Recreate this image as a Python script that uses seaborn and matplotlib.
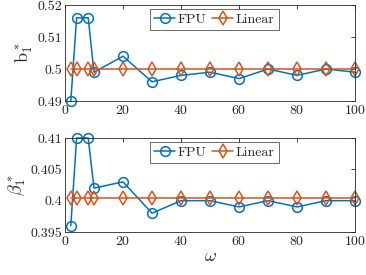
import numpy as np
import pandas as pd
import matplotlib
matplotlib.use("Agg")
import matplotlib.pyplot as plt
import seaborn as sns

# values
omega = [2, 4, 8, 10, 20, 30, 40, 50, 60, 70, 80, 90, 100]
b1_fpu = [0.490, 0.516, 0.516, 0.499, 0.504, 0.496, 0.498, 0.499, 0.497, 0.500, 0.498, 0.500, 0.499]
b1_linear = [0.500] * 13
beta1_fpu = [0.396, 0.410, 0.410, 0.402, 0.403, 0.398, 0.400, 0.400, 0.399, 0.400, 0.399, 0.400, 0.400]
beta1_linear = [0.4005] * 13

sns.set_style("white")
plt.rcParams['font.family'] = 'serif'
plt.rcParams['font.serif'] = ['cmr10', 'DejaVu Serif']
plt.rcParams['mathtext.fontset'] = 'cm'
plt.rcParams['axes.formatter.use_mathtext'] = True
plt.rcParams['axes.unicode_minus'] = False

blue = '#0072BD'
orange = '#D95319'

fig = plt.figure(figsize=(3.66, 2.75), dpi=100)
ax1 = fig.add_axes([65 / 366, 1 - 101 / 275, 290 / 366, 96 / 275])
ax2 = fig.add_axes([65 / 366, 1 - 232 / 275, 290 / 366, 94 / 275])


def draw(ax, fpu, lin, ylim, yticks, yticklabels, ylabel):
    df = pd.DataFrame({'omega': omega * 2,
                       'value': fpu + lin,
                       'series': ['FPU'] * len(omega) + ['Linear'] * len(omega)})
    sns.lineplot(data=df, x='omega', y='value', hue='series', style='series',
                 markers={'FPU': 'o', 'Linear': 'd'}, dashes=False,
                 palette={'FPU': blue, 'Linear': orange}, ax=ax,
                 markersize=7, markerfacecolor='none', markeredgewidth=1.1,
                 linewidth=1.1)
    for line in ax.get_lines():
        line.set_markerfacecolor('none')
        line.set_markeredgecolor(line.get_color())
        line.set_clip_on(False)
    ax.set_xlim(0, 100)
    ax.set_ylim(*ylim)
    ax.set_xticks(range(0, 101, 20))
    ax.set_yticks(yticks)
    ax.set_yticklabels(yticklabels)
    ax.set_ylabel(ylabel, fontsize=13, labelpad=2)
    ax.set_xlabel('')
    ax.tick_params(direction='in', length=3, top=True, right=True,
                   labelsize=10, colors='#262626', width=0.6, pad=2)
    for s in ax.spines.values():
        s.set_color('#262626')
        s.set_linewidth(0.6)
    handles, labels = ax.get_legend_handles_labels()
    for h in handles:
        h.set_markerfacecolor('none')
    ax.legend(handles, labels, loc='upper center', bbox_to_anchor=(0.515, 1.0),
              ncol=2, fontsize=10, frameon=True, fancybox=False,
              edgecolor='#262626', handlelength=1.5, handletextpad=0.2,
              columnspacing=0.4, borderpad=0.3, borderaxespad=0.3)
    ax.get_legend().get_frame().set_linewidth(0.6)


draw(ax1, b1_fpu, b1_linear, (0.49, 0.52), [0.49, 0.50, 0.51, 0.52],
     ['0.49', '0.5', '0.51', '0.52'], r'$\mathrm{b}_1^*$')
draw(ax2, beta1_fpu, beta1_linear, (0.395, 0.41), [0.395, 0.40, 0.405, 0.41],
     ['0.395', '0.4', '0.405', '0.41'], r'$\beta_1^*$')
ax2.set_xlabel(r'$\omega$', fontsize=13, labelpad=1)

fig.savefig('out.png', dpi=100)
